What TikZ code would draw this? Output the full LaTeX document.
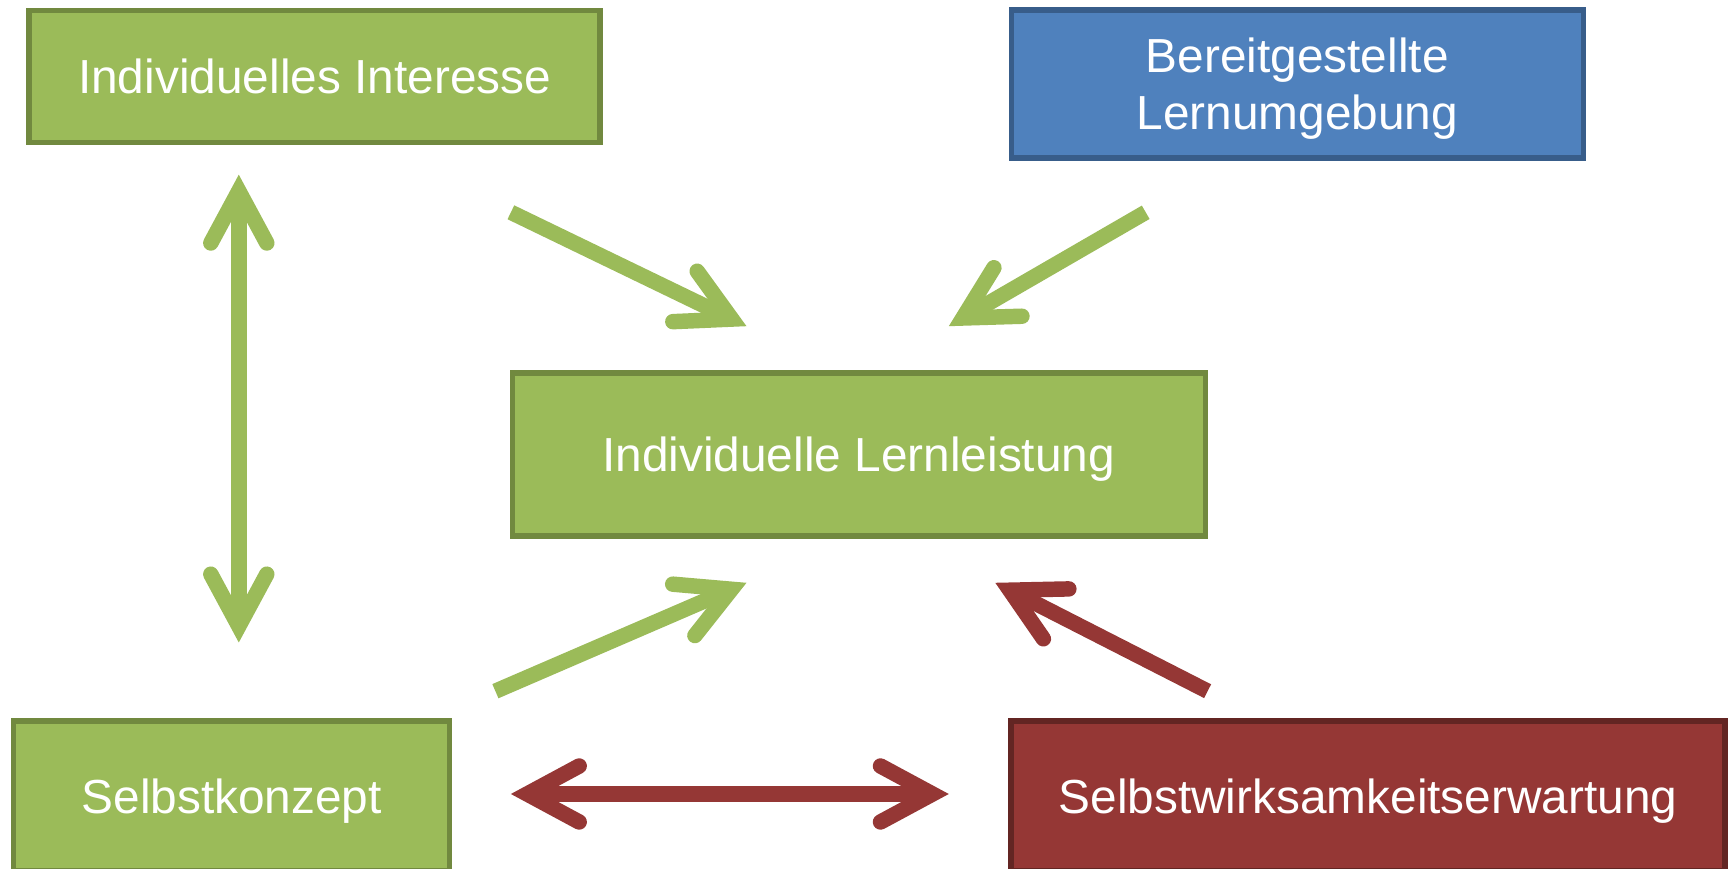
\documentclass[tikz,border=0pt]{standalone}
\usepackage{fontspec}
\setmainfont{Liberation Sans}
\usetikzlibrary{arrows.meta}
\definecolor{boxgreen}{HTML}{9BBB59}
\definecolor{boxgreenline}{HTML}{71893F}
\definecolor{boxblue}{HTML}{4F81BD}
\definecolor{boxblueline}{HTML}{385D8A}
\definecolor{boxred}{HTML}{953735}
\definecolor{boxredline}{HTML}{632523}

\begin{document}
\begin{tikzpicture}[
  font=\fontsize{13.6}{16.3}\selectfont,
  block/.style={draw,line width=1.5pt,text=white,align=center,text depth=0pt,inner sep=0pt,outer sep=0pt},
  greenbox/.style={block,draw=boxgreenline,fill=boxgreen},
  bluebox/.style={block,draw=boxblueline,fill=boxblue},
  redbox/.style={block,draw=boxredline,fill=boxred},
  barb/.tip={Straight Barb[length=5.2mm,width=5.6mm,line cap=round,line join=miter]},
  flow/.style={-barb,line width=4.4pt},
  twoway/.style={barb-barb,line width=4.4pt}]
  \clip (0,0) rectangle (17.34,8.69);
  \node[greenbox,minimum width=5.71cm,minimum height=1.32cm] (interest) at (3.146,7.927)
    {Individuelles Interesse};
  \node[bluebox,minimum width=5.72cm,minimum height=1.48cm] (environment) at (12.972,7.85)
    {Bereitgestellte\\Lernumgebung};
  \node[greenbox,minimum width=6.93cm,minimum height=1.63cm] (performance) at (8.587,4.145)
    {Individuelle Lernleistung};
  \node[greenbox,minimum width=4.36cm,minimum height=1.5cm] (selfconcept) at (2.317,0.73)
    {Selbstkonzept};
  \node[redbox,minimum width=7.14cm,minimum height=1.5cm] (efficacy) at (13.68,0.73)
    {Selbstwirksamkeitserwartung};
  \coordinate (interest-up) at (2.388,6.943);
  \coordinate (concept-up) at (2.388,2.265);
  \coordinate (interest-out) at (5.109,6.567);
  \coordinate (environment-out) at (11.457,6.567);
  \coordinate (performance-nw) at (7.465,5.428);
  \coordinate (performance-ne) at (9.488,5.428);
  \coordinate (concept-out) at (4.954,1.778);
  \coordinate (efficacy-out) at (12.076,1.778);
  \coordinate (performance-sw) at (7.465,2.862);
  \coordinate (performance-se) at (9.953,2.862);
  \coordinate (concept-right) at (5.109,0.75);
  \coordinate (efficacy-left) at (9.488,0.75);
  \draw[twoway,boxgreen] (concept-up) -- (interest-up);
  \draw[flow,boxgreen] (interest-out) -- (performance-nw);
  \draw[flow,boxgreen] (environment-out) -- (performance-ne);
  \draw[flow,boxgreen] (concept-out) -- (performance-sw);
  \draw[flow,boxred] (efficacy-out) -- (performance-se);
  \draw[twoway,boxred] (concept-right) -- (efficacy-left);
\end{tikzpicture}
\end{document}
